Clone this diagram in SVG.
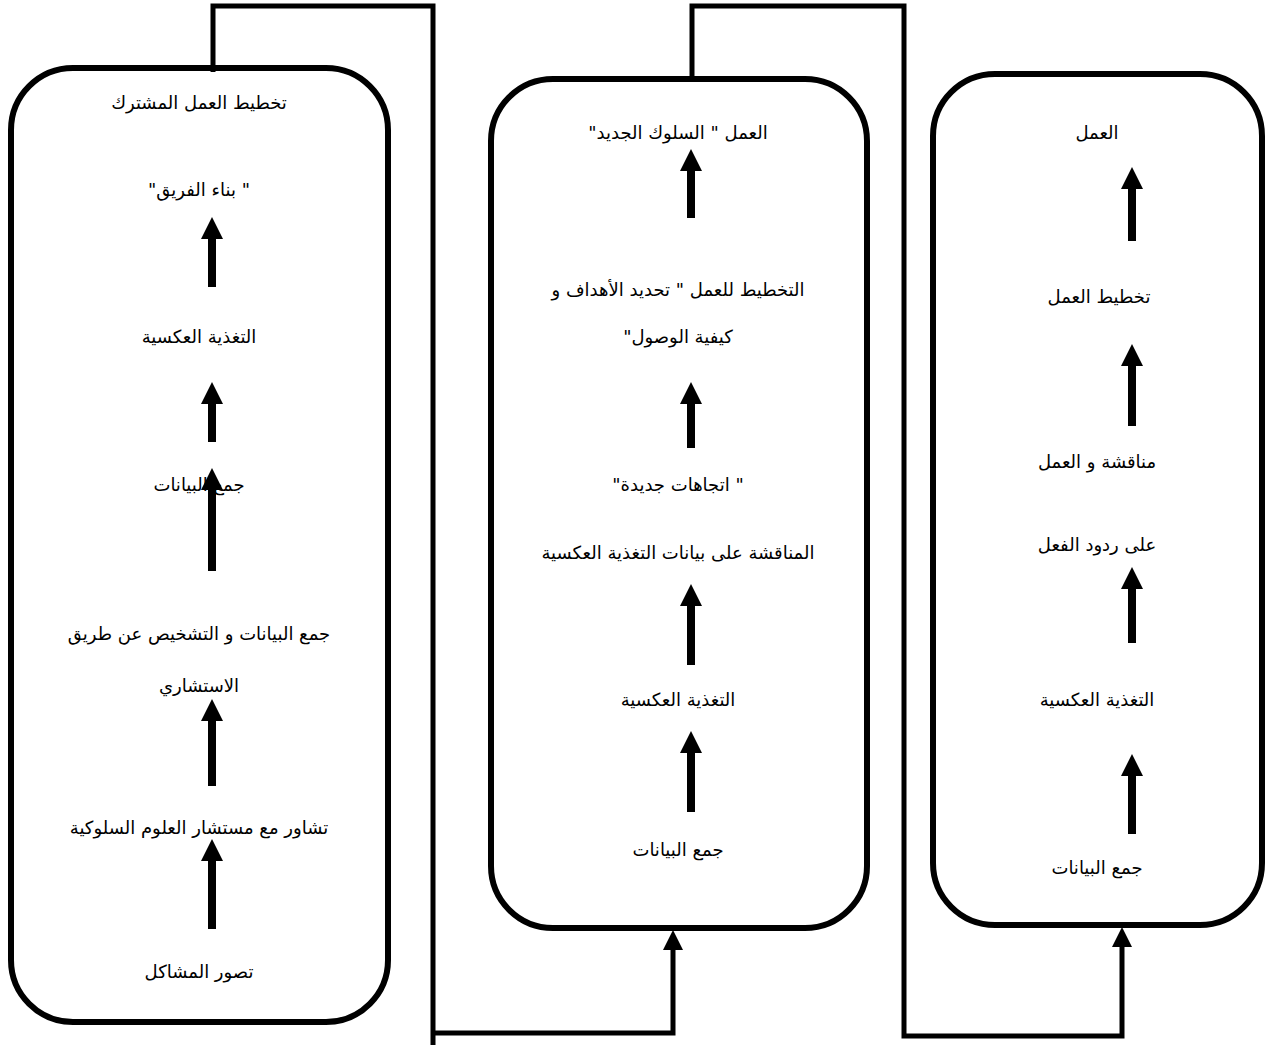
<svg xmlns="http://www.w3.org/2000/svg" width="1275" height="1045" viewBox="0 0 1275 1045">
<defs>
<marker id="ah" markerUnits="userSpaceOnUse" markerWidth="22" markerHeight="22" refX="0" refY="10" orient="auto" viewBox="0 0 20 20">
<path d="M0,0 L20,10 L0,20 z" fill="#000"/>
</marker>
<marker id="ahc" markerUnits="userSpaceOnUse" markerWidth="20" markerHeight="20" refX="0" refY="10" orient="auto" viewBox="0 0 20 20">
<path d="M0,0 L20,10 L0,20 z" fill="#000"/>
</marker>
</defs>
<style>
.box{fill:none;stroke:#000;stroke-width:6}
.t{font-family:"DejaVu Sans","Liberation Serif",serif;font-size:18px;fill:#000;text-anchor:middle;direction:rtl;unicode-bidi:embed}
.ar{stroke:#000;stroke-width:8;marker-end:url(#ah)}
.con{fill:none;stroke:#000;stroke-width:5;stroke-linejoin:miter}
</style>
<rect width="1275" height="1045" fill="#fff"/>

<g id="connectors">
<path class="con" d="M213,72 V6 H433 V1045"/>
<path class="con" d="M433,1033 H673 V950" marker-end="url(#ahc)"/>
<path class="con" d="M692,78 V6 H904 V1036 H1122 V947" marker-end="url(#ahc)"/>
</g>

<g id="box-left">
<rect class="box" x="11" y="68" width="377" height="954" rx="62"/>
<text class="t" direction="rtl" unicode-bidi="embed" x="199" y="109">تخطيط العمل المشترك</text>
<text class="t" direction="rtl" unicode-bidi="embed" x="199" y="196">" بناء الفريق"</text>
<line class="ar" x1="212" y1="287" x2="212" y2="239"/>
<text class="t" direction="rtl" unicode-bidi="embed" x="199" y="343">التغذية العكسية</text>
<line class="ar" x1="212" y1="442" x2="212" y2="404"/>
<text class="t" direction="rtl" unicode-bidi="embed" x="199" y="491">جمع البيانات</text>
<line class="ar" x1="212" y1="571" x2="212" y2="490"/>
<text class="t" direction="rtl" unicode-bidi="embed" x="199" y="640">جمع البيانات و التشخيص عن طريق</text>
<text class="t" direction="rtl" unicode-bidi="embed" x="199" y="692">الاستشاري</text>
<line class="ar" x1="212" y1="786" x2="212" y2="721"/>
<text class="t" direction="rtl" unicode-bidi="embed" x="199" y="834">تشاور مع مستشار العلوم السلوكية</text>
<line class="ar" x1="212" y1="929" x2="212" y2="861"/>
<text class="t" direction="rtl" unicode-bidi="embed" x="199" y="978">تصور المشاكل</text>
</g>

<g id="box-middle">
<rect class="box" x="491" y="79" width="376" height="849" rx="62"/>
<text class="t" direction="rtl" unicode-bidi="embed" x="678" y="139">العمل " السلوك الجديد"</text>
<line class="ar" x1="691" y1="218" x2="691" y2="171"/>
<text class="t" direction="rtl" unicode-bidi="embed" x="678" y="296">التخطيط للعمل " تحديد الأهداف و</text>
<text class="t" direction="rtl" unicode-bidi="embed" x="678" y="343">كيفية الوصول"</text>
<line class="ar" x1="691" y1="448" x2="691" y2="404"/>
<text class="t" direction="rtl" unicode-bidi="embed" x="678" y="491">" اتجاهات جديدة"</text>
<text class="t" direction="rtl" unicode-bidi="embed" x="678" y="559">المناقشة على بيانات التغذية العكسية</text>
<line class="ar" x1="691" y1="665" x2="691" y2="606"/>
<text class="t" direction="rtl" unicode-bidi="embed" x="678" y="706">التغذية العكسية</text>
<line class="ar" x1="691" y1="812" x2="691" y2="753"/>
<text class="t" direction="rtl" unicode-bidi="embed" x="678" y="856">جمع البيانات</text>
</g>

<g id="box-right">
<rect class="box" x="933" y="74" width="329" height="851" rx="62"/>
<text class="t" direction="rtl" unicode-bidi="embed" x="1097" y="139">العمل</text>
<line class="ar" x1="1132" y1="241" x2="1132" y2="189"/>
<text class="t" direction="rtl" unicode-bidi="embed" x="1099" y="303">تخطيط العمل</text>
<line class="ar" x1="1132" y1="426" x2="1132" y2="366"/>
<text class="t" direction="rtl" unicode-bidi="embed" x="1097" y="468">مناقشة و العمل</text>
<text class="t" direction="rtl" unicode-bidi="embed" x="1097" y="551">على ردود الفعل</text>
<line class="ar" x1="1132" y1="643" x2="1132" y2="589"/>
<text class="t" direction="rtl" unicode-bidi="embed" x="1097" y="706">التغذية العكسية</text>
<line class="ar" x1="1132" y1="834" x2="1132" y2="776"/>
<text class="t" direction="rtl" unicode-bidi="embed" x="1097" y="874">جمع البيانات</text>
</g>
</svg>
